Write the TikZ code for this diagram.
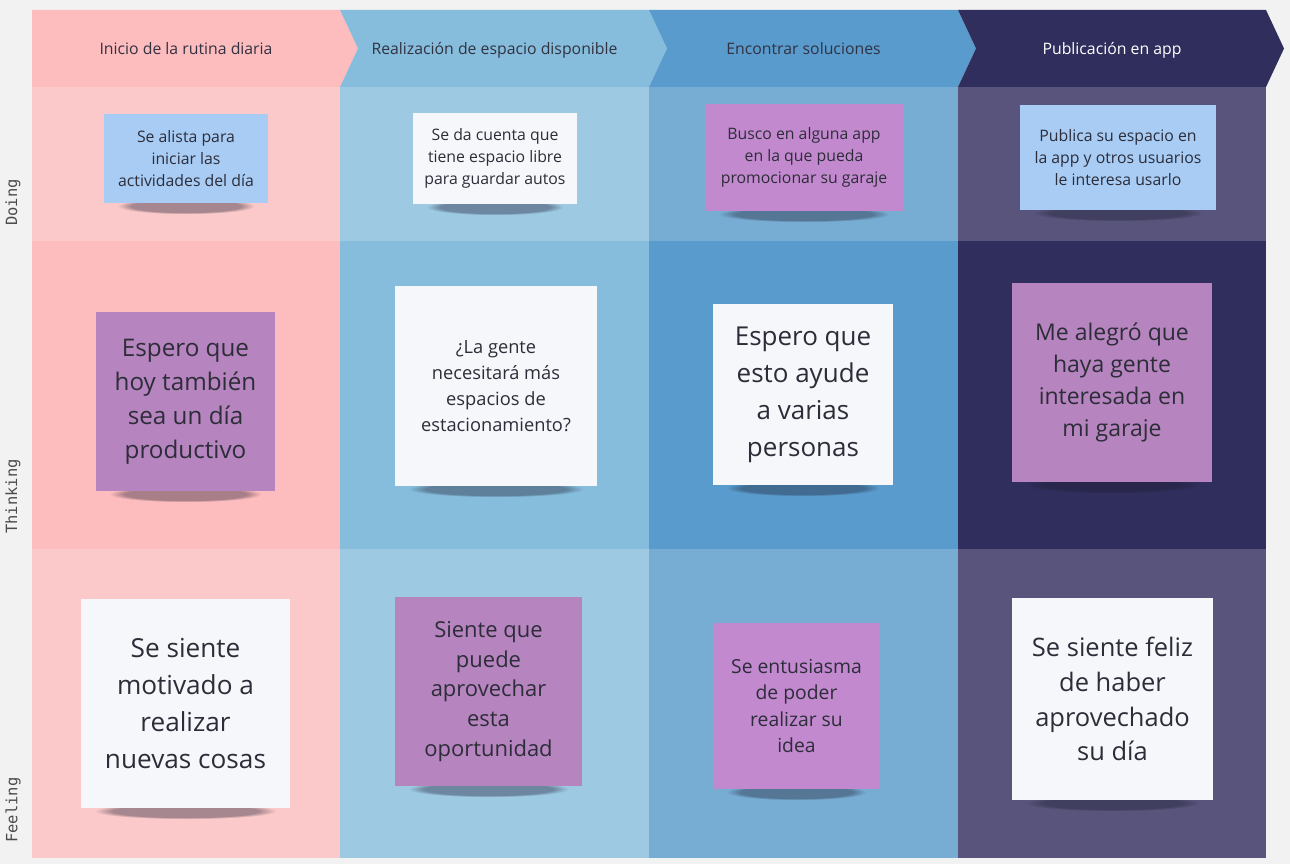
\documentclass[tikz,border=0pt]{standalone}
\usepackage{fontspec}
\setmainfont{Open Sans}
\newfontfamily\rowfont{DejaVu Sans Mono}
\usetikzlibrary{fadings}
\definecolor{bggray}{RGB}{242,242,242}
\definecolor{pinkH}{RGB}{253,188,189}
\definecolor{pinkL}{RGB}{251,201,201}
\definecolor{blueH}{RGB}{134,189,220}
\definecolor{blueL}{RGB}{157,201,226}
\definecolor{midH}{RGB}{89,155,204}
\definecolor{midL}{RGB}{119,173,211}
\definecolor{navyH}{RGB}{48,46,92}
\definecolor{navyL}{RGB}{88,84,123}
\definecolor{noteblue}{RGB}{168,204,244}
\definecolor{notewhite}{RGB}{246,247,250}
\definecolor{notepurple}{RGB}{182,132,190}
\definecolor{notemagenta}{RGB}{194,137,206}
\definecolor{notetext}{RGB}{45,45,58}
\definecolor{hdrtext}{RGB}{50,50,66}
\definecolor{rowtext}{RGB}{75,75,75}
\definecolor{shadowcol}{RGB}{30,30,50}
\newcommand{\notesize}[2]{\fontsize{#1}{#2}\selectfont}
\pgfdeclarelayer{back}
\pgfdeclarelayer{shade}
\pgfsetlayers{back,shade,main}
\tikzset{
  note/.style={inner sep=2pt, align=center, text=notetext},
  hdr/.style={font=\notesize{9}{11}, text=hdrtext, anchor=base},
  rowlbl/.style={font=\rowfont\notesize{8.8}{10}, text=rowtext, rotate=90, anchor=west}
}

\begin{document}
\begin{tikzpicture}[x=0.02cm,y=-0.02cm]
  \useasboundingbox (0,0) rectangle (1290,864);
  \begin{pgfonlayer}{back}
  % background
  \fill[bggray] (0,0) rectangle (1290,864);
  % header chevrons
  \foreach \xa/\xb/\nt/\col in {32/340/0/pinkH, 340/649/18/blueH, 649/958/18/midH, 958/1266/18/navyH}
    \fill[\col] (\xa,10) -- (\xb,10) -- (\xb+18,48.5) -- (\xb,87) -- (\xa,87) -- (\xa+\nt,48.5) -- cycle;
  % lanes
  \foreach \xa/\xb/\cH/\cL in {32/340/pinkH/pinkL, 340/649/blueH/blueL, 649/958/midH/midL, 958/1266/navyH/navyL} {
    \fill[\cL] (\xa,87) rectangle (\xb,241);
    \fill[\cH] (\xa,241) rectangle (\xb,549);
    \fill[\cL] (\xa,549) rectangle (\xb,858);
  }
  \end{pgfonlayer}

  % stage titles
  \node[hdr] (h1) at (186,54.5) {Inicio de la rutina diaria};
  \node[hdr] (h2) at (494.5,54.5) {Realización de espacio disponible};
  \node[hdr] (h3) at (803.5,54.5) {Encontrar soluciones};
  \node[hdr, text=white] (h4) at (1112,54.5) {Publicación en app};

  % row labels
  \node[rowlbl] (lblD) at (13,232) {Doing};
  \node[rowlbl] (lblT) at (13,540) {Thinking};
  \node[rowlbl] (lblF) at (13,849) {Feeling};

  % doing
  \node[note, fill=noteblue, minimum width=3.28cm, minimum height=1.78cm, font=\notesize{9}{12.6}] (d1) at (186,158.5) {Se alista para\\iniciar las\\actividades del día};
  \node[note, fill=notewhite, minimum width=3.28cm, minimum height=1.82cm, font=\notesize{9}{12.6}] (d2) at (495,158.5) {Se da cuenta que\\tiene espacio libre\\para guardar autos};
  \node[note, fill=notemagenta, minimum width=3.96cm, minimum height=2.14cm, font=\notesize{9}{12.6}] (d3) at (804,157.5) {Busco en alguna app\\en la que pueda\\promocionar su garaje};
  \node[note, fill=noteblue, minimum width=3.92cm, minimum height=2.10cm, font=\notesize{9}{12.6}] (d4) at (1118,157.5) {Publica su espacio en\\la app y otros usuarios\\le interesa usarlo};

  % thinking
  \node[note, fill=notepurple, minimum width=3.58cm, minimum height=3.58cm, font=\notesize{13.8}{19.3}] (t1) at (185.5,401.5) {Espero que\\hoy también\\sea un día\\productivo};
  \node[note, fill=notewhite, minimum width=4.04cm, minimum height=4cm, font=\notesize{10.4}{14.9}] (t2) at (496,386) {¿La gente\\necesitará más\\espacios de\\estacionamiento?};
  \node[note, fill=notewhite, minimum width=3.6cm, minimum height=3.62cm, font=\notesize{14.8}{21}] (t3) at (803,394.5) {Espero que\\esto ayude\\a varias\\personas};
  \node[note, fill=notepurple, minimum width=4cm, minimum height=3.98cm, font=\notesize{13.1}{18.1}] (t4) at (1112,382.5) {Me alegró que\\haya gente\\interesada en\\mi garaje};

  % feeling
  \node[note, fill=notewhite, minimum width=4.18cm, minimum height=4.18cm, font=\notesize{14.9}{21}] (f1) at (185.5,703.5) {Se siente\\motivado a\\realizar\\nuevas cosas};
  \node[note, fill=notepurple, minimum width=3.74cm, minimum height=3.78cm, font=\notesize{12.5}{17}] (f2) at (488.5,691.5) {Siente que\\puede\\aprovechar\\esta\\oportunidad};
  \node[note, fill=notemagenta, minimum width=3.34cm, minimum height=3.32cm, font=\notesize{11}{15.1}] (f3) at (796.5,706) {Se entusiasma\\de poder\\realizar su\\idea};
  \node[note, fill=notewhite, minimum width=4.02cm, minimum height=4.04cm, font=\notesize{14.5}{19.8}] (f4) at (1112.5,699) {Se siente feliz\\de haber\\aprovechado\\su día};

  % shadows under the notes
  \begin{pgfonlayer}{shade}
  \foreach \n in {d1,d2,d3,d4,t1,t2,t3,t4,f1,f2,f3,f4}
    \fill[shadowcol, opacity=0.38, path fading=circle with fuzzy edge 20 percent]
      ([xshift=8pt,yshift=3pt]\n.south west) rectangle ([xshift=-8pt,yshift=-6pt]\n.south east);
  \end{pgfonlayer}
\end{tikzpicture}
\end{document}
